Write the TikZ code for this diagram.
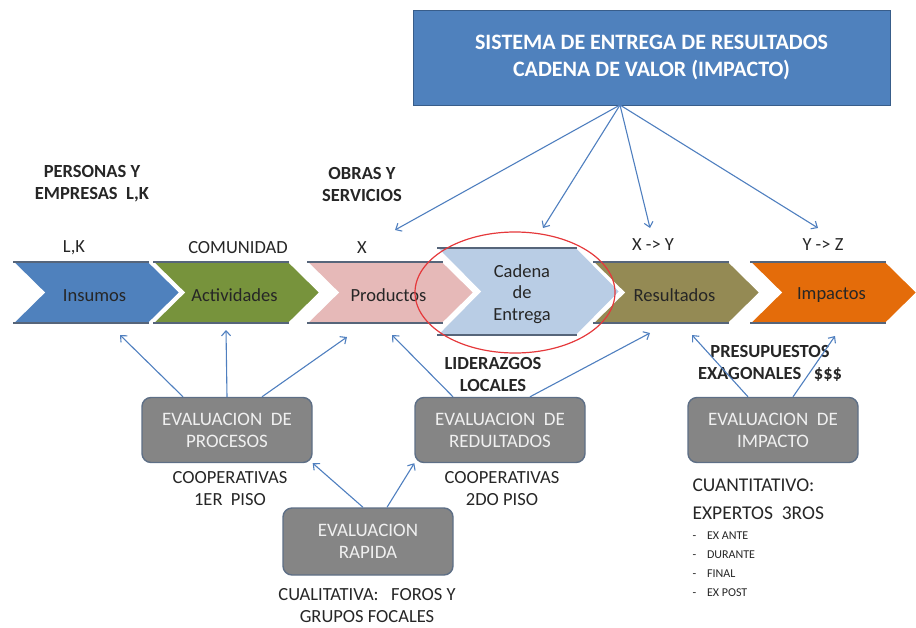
\documentclass[tikz,border=0pt]{standalone}
\usepackage{fontspec}
\setmainfont{Carlito}
\usetikzlibrary{arrows.meta,calc}
\definecolor{sysblue}{HTML}{4F81BD}
\definecolor{sysborder}{HTML}{385D8A}
\definecolor{cinsumo}{HTML}{4F81BD}
\definecolor{cactiv}{HTML}{77933C}
\definecolor{cprod}{HTML}{E6B9B8}
\definecolor{ccadena}{HTML}{B9CDE5}
\definecolor{cresul}{HTML}{948A54}
\definecolor{cimpac}{HTML}{E46C0A}
\definecolor{evalgray}{HTML}{858585}
\definecolor{evalborder}{HTML}{5E6F86}
\definecolor{arrblue}{HTML}{4F7FBF}
\definecolor{ovalred}{HTML}{E5383B}
\definecolor{edgegray}{HTML}{56657A}
\tikzset{
  lbl/.style={font=\fontsize{18.5}{22}\selectfont, text=black!85, align=center},
  boldlbl/.style={lbl, font=\fontsize{18.5}{22}\selectfont\bfseries},
  chevtext/.style={font=\fontsize{18.5}{22}\selectfont, text=black!85, align=center},
  evalbox/.style={rounded corners=9pt, fill=evalgray, draw=evalborder, line width=1.4pt,
    minimum width=170pt, minimum height=65pt, text=white!88!gray, align=center,
    font=\fontsize{19}{22}\selectfont},
  sysbox/.style={fill=sysblue, draw=sysborder, line width=1pt, minimum width=477pt,
    minimum height=95pt, text=white, align=center, font=\fontsize{22}{27}\selectfont\bfseries},
  arr/.style={draw=arrblue, line width=1.1pt, -{Straight Barb[length=5pt,width=9pt]}},
  edge/.style={draw=edgegray, line width=1.3pt}
}
\begin{document}
\begin{tikzpicture}[x=1pt,y=-1pt]
  \useasboundingbox (0,0) rectangle (916,627);
  \def\ct{262}
  \def\ch{61}
  \def\cw{167}
  \def\cd{31}
  % chevrons of the chain
  \foreach \x/\c/\t/\n in {13/cinsumo/Insumos/ins, 153/cactiv/Actividades/act,
      307/cprod/Productos/prod, 593/cresul/Resultados/res, 750/cimpac/Impactos/imp} {
    \filldraw[fill=\c, draw=white, line width=1.5pt] (\x,\ct) -- ++(\cw-\cd,0) -- ++(\cd,\ch/2)
      -- ++(-\cd,\ch/2) -- ++(-\cw+\cd,0) -- ++(\cd,-\ch/2) -- cycle;
    \draw[edge] (\x,\ct) -- ++(\cw-\cd,0);
    \draw[edge] (\x,\ct+\ch) -- ++(\cw-\cd,0);
    \node[chevtext] (\n) at (\x+\cw/2-2,\ct+\ch/2+3) {\t};
  }
  % cadena de entrega, larger and on top
  \filldraw[fill=ccadena, draw=white, line width=1.5pt] (437,248) -- ++(140,0) -- ++(43,43.5)
    -- ++(-43,43.5) -- ++(-140,0) -- ++(43,-43.5) -- cycle;
  \draw[edge] (437,248) -- ++(140,0);
  \draw[edge] (437,335) -- ++(140,0);
  \node[chevtext, font=\fontsize{18.5}{21.5}\selectfont] (cad) at (522,294) {Cadena\\de\\Entrega};
  \draw[ovalred, line width=1.2pt] (515,292.5) ellipse [x radius=100, y radius=60.5];

  % top box
  \node[sysbox] (sys) at (651.5,57.5) {SISTEMA DE ENTREGA DE RESULTADOS\\CADENA DE VALOR (IMPACTO)};

  % labels above the chain
  \node[boldlbl] (pers) at (92,184) {PERSONAS Y\\EMPRESAS\ \ L,K};
  \node[boldlbl] (obras) at (362,184) {OBRAS Y\\SERVICIOS};
  \node[lbl] (lk) at (74,248) {L,K};
  \node[lbl] (comu) at (238,248) {COMUNIDAD};
  \node[lbl] (xl) at (362,248) {X};
  \node[lbl] (xy) at (653,245) {X -> Y};
  \node[lbl] (yz) at (823,245) {Y -> Z};

  % evaluation boxes
  \node[evalbox] (proc) at (227,430) {EVALUACION\ \ DE\\PROCESOS};
  \node[evalbox] (redu) at (500,430) {EVALUACION\ \ DE\\REDULTADOS};
  \node[evalbox] (eimp) at (773,430) {EVALUACION\ \ DE\\IMPACTO};
  \node[evalbox, minimum height=67pt] (rap) at (368,541.5) {EVALUACION\\RAPIDA};

  % labels below
  \node[boldlbl] (lider) at (493,374) {LIDERAZGOS\\LOCALES};
  \node[lbl] (coop1) at (230,489) {COOPERATIVAS\\1ER\ \ PISO};
  \node[lbl] (coop2) at (502,489) {COOPERATIVAS\\2DO PISO};
  \node[lbl] (cuali) at (367,606) {CUALITATIVA:\ \ \ FOROS Y\\GRUPOS FOCALES};
  \node[boldlbl] (presu) at (770,363) {PRESUPUESTOS\\EXAGONALES\ \ \ \$\$\$};
  \node[lbl, anchor=west, align=left, font=\fontsize{19.5}{28}\selectfont] (cuanti) at (689,499)
    {CUANTITATIVO:\\EXPERTOS\ \ 3ROS};
  \node[lbl, anchor=north west, align=left, font=\fontsize{12}{19}\selectfont] (lista) at (689,528)
    {-\ \ \ \ EX ANTE\\-\ \ \ \ DURANTE\\-\ \ \ \ FINAL\\-\ \ \ \ EX POST};

  % free ends of the arrows
  \coordinate (hub) at (620,105);
  \coordinate (tprod) at (395,230);
  \coordinate (tcad) at (543,228);
  \coordinate (tres) at (650,228);
  \coordinate (timp) at (818,228);
  \coordinate (bins) at (120,335);
  \coordinate (bact) at (226,330);
  \coordinate (bprod) at (347,337);
  \coordinate (bprod2) at (392,335);
  \coordinate (bres) at (650,333);
  \coordinate (bres2) at (692,335);
  \coordinate (bimp) at (835,336);

  % arrows from the top box
  \foreach \t in {tprod,tcad,tres,timp}
    \draw[arr] (hub) -- (\t);
  % arrows from the evaluations
  \draw[arr] ([xshift=-44pt]proc.north) -- (bins);
  \draw[arr] (proc.north) -- (bact);
  \draw[arr] ([xshift=35pt]proc.north) -- (bprod);
  \draw[arr] ([xshift=-47pt]redu.north) -- (bprod2);
  \draw[arr] ([xshift=30pt]redu.north) -- (bres);
  \draw[arr] ([xshift=-25pt]eimp.north) -- (bres2);
  \draw[arr] ([xshift=20pt]eimp.north) -- (bimp);
  \draw[arr] ([xshift=-5pt]rap.north) -- (proc.south east);
  \draw[arr] ([xshift=19pt]rap.north) -- (redu.south west);
\end{tikzpicture}
\end{document}
